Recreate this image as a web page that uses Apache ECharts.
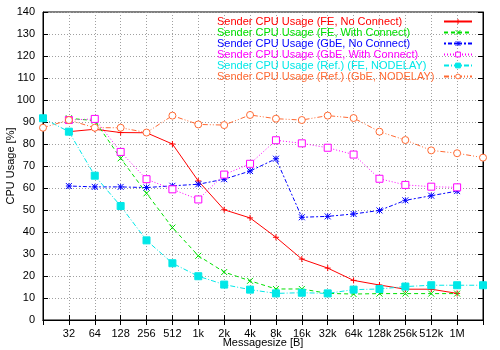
<!DOCTYPE html>
<html lang="en">
<head>
    <meta charset="UTF-8">
    <script src="https://cdn.jsdelivr.net/npm/echarts@6/dist/echarts.min.js"></script>
    <title>Sender CPU Usage</title>
    <style>
        html, body { margin: 0; padding: 0; background: #fff; }
    </style>
</head>
<body>
<div id="main" style="width: 500px;height:350px;"></div>
<script type="text/javascript">
    // message sizes 16 B .. 2 MB (first and last have no label)
    var sizes = ['16', '32', '64', '128', '256', '512', '1k', '2k', '4k', '8k', '16k', '32k', '64k', '128k', '256k', '512k', '1M', '2M'];

    var feNoConnect = [null, 85.6, 86.7, 85.2, 85.1, 80.0, 63.2, 50.1, 46.4, 37.6, 27.7, 23.6, 18.0, 15.9, 14.0, 14.0, 12.1, null];
    var feWithConnect = [null, 91.7, 90.6, 73.5, 57.6, 42.0, 29.2, 21.8, 17.8, 14.1, 14.1, 12.1, 11.8, 12.0, 12.0, 12.0, 12.0, null];
    var gbeNoConnect = [null, 60.9, 60.5, 60.5, 60.2, 61.0, 61.7, 64.0, 67.7, 73.3, 46.7, 47.1, 48.2, 49.8, 54.4, 56.5, 58.6, null];
    var gbeWithConnect = [null, 90.9, 91.4, 76.4, 64.0, 59.4, 54.8, 66.1, 71.0, 81.7, 80.3, 78.3, 75.2, 64.2, 61.4, 60.6, 60.3, null];
    var refFeNodelay = [91.7, 85.6, 65.6, 51.8, 36.2, 25.8, 19.9, 16.1, 13.8, 12.1, 12.4, 12.1, 13.8, 14.1, 15.2, 15.8, 15.8, 15.8];
    var refGbeNodelay = [87.4, 90.9, 87.4, 87.4, 85.2, 92.9, 88.9, 88.6, 93.2, 91.5, 90.9, 92.9, 91.8, 85.6, 81.8, 77.1, 75.8, 73.8];

    var names = [
        'Sender CPU Usage (FE, No Connect)',
        'Sender CPU Usage (FE, With Connect)',
        'Sender CPU Usage (GbE, No Connect)',
        'Sender CPU Usage (GbE, With Connect)',
        'Sender CPU Usage (Ref.) (FE, NODELAY)',
        'Sender CPU Usage (Ref.) (GbE, NODELAY)'
    ];
    var colors = ['#ff0000', '#00e000', '#0000ff', '#ff00ff', '#00e8e8', '#ff6a33'];
    var values = [feNoConnect, feWithConnect, gbeNoConnect, gbeWithConnect, refFeNodelay, refGbeNodelay];
    var dashes = ['solid', [4, 3], [2, 2, 4, 2], [1, 2], [5, 2, 1, 2], [5, 2, 1, 2, 1, 2]];
    var symbols = [
        'path://M0,-1L0,1M-1,0L1,0',
        'path://M-1,-1L1,1M-1,1L1,-1',
        'path://M0,-1L0,1M-1,-1L1,1M-1,1L1,-1M-1,0L1,0',
        'rect',
        'rect',
        'circle'
    ];
    var filled = [false, false, false, false, true, false];
    var symSizes = [6, 6, 6, 7, 7, 7];

    function markStyle(i) {
        return {
            color: filled[i] ? colors[i] : '#ffffff',
            borderColor: colors[i],
            borderWidth: 1
        };
    }

    var series = [];
    for (var i = 0; i < names.length; i++) {
        series.push({
            name: names[i],
            type: 'line',
            data: values[i],
            symbol: symbols[i],
            symbolSize: symSizes[i],
            showSymbol: true,
            connectNulls: false,
            lineStyle: {color: colors[i], width: 1, type: dashes[i]},
            itemStyle: markStyle(i),
            emphasis: {disabled: true},
            animation: false
        });
    }

    var legendData = names.map(function (n, i) {
        return {name: n, textStyle: {color: colors[i]}, itemStyle: markStyle(i)};
    });

    var font = 'Liberation Sans';
    var myChart = echarts.init(document.getElementById('main'));
    var option = {
        animation: false,
        textStyle: {fontFamily: font},
        grid: {
            left: 43, right: 17, top: 12, bottom: 30,
            containLabel: false, outerBoundsMode: 'none',
            show: true, borderColor: '#000', borderWidth: 1, backgroundColor: 'transparent'
        },
        legend: {
            orient: 'vertical',
            left: 217,
            top: 16,
            padding: 0,
            itemGap: 0,
            align: 'right',
            itemWidth: 28,
            itemHeight: 6,
            formatter: '{a|{name}}',
            textStyle: {
                fontSize: 11, fontFamily: font, lineHeight: 10,
                rich: {a: {width: 222, align: 'left', fontSize: 11, lineHeight: 10, fontFamily: font}}
            },
            data: legendData
        },
        xAxis: [{
            type: 'category',
            data: sizes,
            boundaryGap: false,
            name: 'Messagesize [B]',
            nameLocation: 'middle',
            nameGap: 17,
            nameMoveOverlap: false,
            nameTextStyle: {color: '#000', fontSize: 11},
            axisLine: {lineStyle: {color: '#000'}},
            axisTick: {inside: true, length: 5, interval: 0, lineStyle: {color: '#000'}},
            axisLabel: {
                interval: 0, color: '#000', fontSize: 11, margin: 8,
                formatter: function (v, idx) { return (idx === 0 || idx === sizes.length - 1) ? '' : v; }
            },
            splitLine: {show: true, interval: 0, lineStyle: {color: '#a0a0a0', type: [1, 2]}}
        }, {
            type: 'category',
            data: sizes,
            boundaryGap: false,
            position: 'top',
            axisLine: {lineStyle: {color: '#000'}},
            axisTick: {inside: true, length: 5, interval: 0, lineStyle: {color: '#000'}},
            axisLabel: {show: false},
            splitLine: {show: false}
        }],
        yAxis: [{
            type: 'value',
            min: 0,
            max: 140,
            interval: 10,
            name: 'CPU Usage [%]',
            nameLocation: 'middle',
            nameGap: 27,
            nameMoveOverlap: false,
            nameTextStyle: {color: '#000', fontSize: 11},
            axisLine: {show: true, lineStyle: {color: '#000'}},
            axisTick: {show: true, inside: true, length: 5, lineStyle: {color: '#000'}},
            axisLabel: {color: '#000', fontSize: 11, margin: 8},
            splitLine: {show: true, lineStyle: {color: '#a0a0a0', type: [1, 2]}}
        }, {
            type: 'value',
            min: 0,
            max: 140,
            interval: 10,
            position: 'right',
            axisLine: {show: true, lineStyle: {color: '#000'}},
            axisTick: {show: true, inside: true, length: 5, lineStyle: {color: '#000'}},
            axisLabel: {show: false},
            splitLine: {show: false}
        }],
        series: series
    };
    myChart.setOption(option);
</script>
</body>
</html>
